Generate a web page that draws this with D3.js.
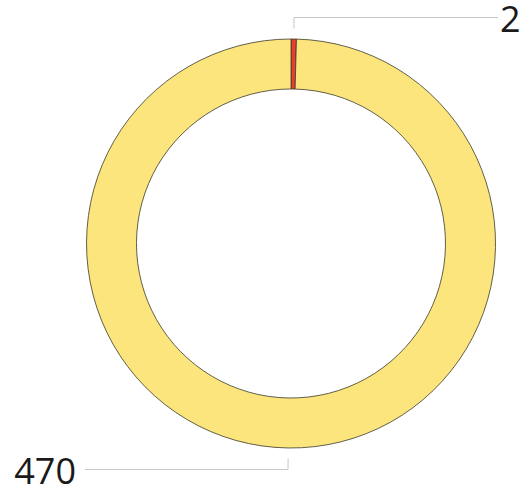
<!DOCTYPE html>
<html>
<head>
<meta charset="utf-8">
<script src="https://cdn.jsdelivr.net/npm/d3@7"></script>
<style>
  html, body { margin: 0; padding: 0; background: #fff; }
</style>
</head>
<body>
<div id="chart"></div>
<script>
// slice data
const labels = ["2", "470"];
const values = [2, 470];
const colors = ["#e8402f", "#fde57e"];

const W = 529, H = 489;
const cx = 291, cy = 243.5;
const outerR = 204.5, innerR = 154.5;
const leadStart = 215, leadBend = 226;

const svg = d3.select("#chart")
  .append("svg")
  .attr("width", W)
  .attr("height", H);

const g = svg.append("g").attr("transform", `translate(${cx},${cy})`);

const pie = d3.pie().sort(null).value(d => d)(values);
const arc = d3.arc().innerRadius(innerR).outerRadius(outerR);

g.selectAll("path.slice")
  .data(pie)
  .join("path")
  .attr("class", "slice")
  .attr("d", arc)
  .attr("fill", (d, i) => colors[i])
  .attr("stroke", "#3a3a2a")
  .attr("stroke-width", 0.8);

// leader lines + labels
pie.forEach((d, i) => {
  const mid = (d.startAngle + d.endAngle) / 2;
  const sx = Math.sin(mid), sy = -Math.cos(mid);
  const x0 = sx * leadStart, y0 = sy * leadStart;
  const x1 = sx * leadBend, y1 = sy * leadBend;
  const right = sx >= 0;
  const xEnd = right ? (W - 31 - cx) : (85 - cx);

  g.append("polyline")
    .attr("points", [[x0, y0], [x1, y1], [xEnd, y1]].map(p => p.join(",")).join(" "))
    .attr("fill", "none")
    .attr("stroke", "#c8c8c8")
    .attr("stroke-width", 1);

  g.append("text")
    .attr("x", right ? xEnd + 2 : xEnd - 9)
    .attr("y", y1)
    .attr("dy", "0.4em")
    .attr("text-anchor", right ? "start" : "end")
    .attr("font-family", "'Open Sans', sans-serif")
    .attr("font-size", 36)
    .attr("fill", "#1a1a1a")
    .text(labels[i]);
});
</script>
</body>
</html>
